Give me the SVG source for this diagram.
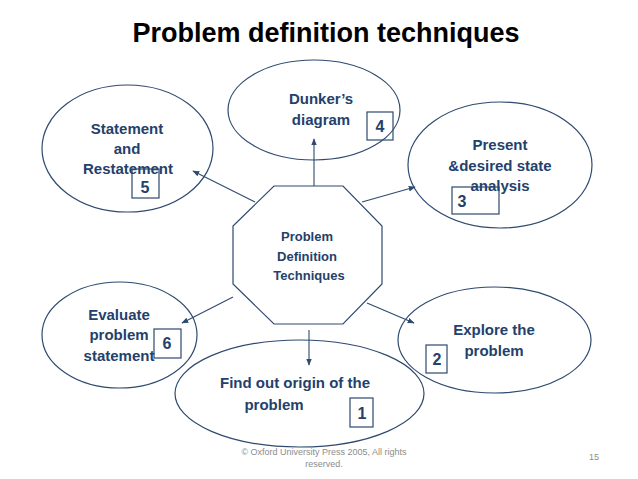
<svg xmlns="http://www.w3.org/2000/svg" width="638" height="479" viewBox="0 0 638 479">
<style>
.shape{fill:#fff;stroke:#2e4a6e;stroke-width:1.2}
.box{fill:none;stroke:#2e4a6e;stroke-width:1.2}
.t{font-family:"Liberation Sans",Arial,sans-serif;font-weight:bold;font-size:15px;fill:#23416b;text-anchor:middle}
.s{font-size:13px}
.n{font-family:"Liberation Sans",Arial,sans-serif;font-weight:bold;font-size:16px;fill:#23416b;text-anchor:middle}
.c{stroke:#2e4a6e;stroke-width:1.1;fill:none;marker-end:url(#ah)}
.f{font-family:"Liberation Sans",Arial,sans-serif;font-size:9px;fill:#8c8c8c;text-anchor:middle}
</style>
<defs>
<marker id="ah" viewBox="0 0 10 10" refX="9" refY="5" markerWidth="7" markerHeight="7" orient="auto" markerUnits="userSpaceOnUse">
<path d="M0,1 L10,5 L0,9 z" fill="#2e4a6e"/>
</marker>
</defs>
<rect width="638" height="479" fill="#fff"/>
<text x="326" y="42" font-family="'Liberation Sans',Arial,sans-serif" font-weight="bold" font-size="27" fill="#000" text-anchor="middle">Problem definition techniques</text>

<g id="n5">
<ellipse class="shape" cx="127.5" cy="148.5" rx="85.5" ry="63.5"/>
<text class="t" x="127" y="134">Statement</text>
<text class="t" x="127" y="154">and</text>
<text class="t" x="128" y="174">Restatement</text>
<rect class="box" x="132" y="169" width="27" height="29"/>
<text class="n" x="145" y="193">5</text>
</g>

<g id="n4">
<ellipse class="shape" cx="314" cy="110" rx="86" ry="50"/>
<text class="t" x="321" y="104">Dunker’s</text>
<text class="t" x="321" y="125">diagram</text>
<rect class="box" x="367" y="112" width="26" height="28"/>
<text class="n" x="380" y="132">4</text>
</g>

<g id="n3">
<ellipse class="shape" cx="500" cy="165" rx="92" ry="63"/>
<text class="t" x="500" y="150">Present</text>
<text class="t" x="500" y="171">&amp;desired state</text>
<text class="t" x="500" y="191">analysis</text>
<rect class="box" x="452" y="187" width="47" height="27"/>
<text class="n" x="462" y="207">3</text>
</g>

<g id="n6">
<ellipse class="shape" cx="119.5" cy="335" rx="77.5" ry="53"/>
<text class="t" x="119" y="320">Evaluate</text>
<text class="t" x="119" y="340">problem</text>
<text class="t" x="119" y="361">statement</text>
<rect class="box" x="154" y="329" width="27" height="29"/>
<text class="n" x="167" y="349">6</text>
</g>

<g id="n2">
<ellipse class="shape" cx="494.5" cy="340" rx="96.5" ry="53"/>
<text class="t" x="494" y="335">Explore the</text>
<text class="t" x="494" y="356">problem</text>
<rect class="box" x="426" y="345" width="21" height="28"/>
<text class="n" x="437" y="365">2</text>
</g>

<g id="n1">
<ellipse class="shape" cx="299.5" cy="393.5" rx="124.5" ry="53.5"/>
<text class="t" x="295" y="388">Find out origin of the</text>
<text class="t" x="274" y="410">problem</text>
<rect class="box" x="350" y="398" width="23" height="29"/>
<text class="n" x="362" y="419">1</text>
</g>

<g id="center">
<polygon class="shape" points="274,186 343,186 382,226 382,284 343,324 274,324 233,284 233,226"/>
<text class="t s" x="307" y="241">Problem</text>
<text class="t s" x="307" y="261">Definition</text>
<text class="t s" x="309" y="280">Techniques</text>
</g>

<g id="connectors">
<line class="c" x1="314" y1="186" x2="314" y2="139"/>
<line class="c" x1="255" y1="202" x2="193" y2="171"/>
<line class="c" x1="362" y1="202" x2="415" y2="187"/>
<line class="c" x1="233" y1="297" x2="182" y2="323"/>
<line class="c" x1="367" y1="303" x2="414" y2="323"/>
<line class="c" x1="309" y1="330" x2="309" y2="365"/>
</g>

<text class="f" x="324" y="455">© Oxford University Press 2005, All rights</text>
<text class="f" x="324" y="467">reserved.</text>
<text class="f" x="594" y="460">15</text>
</svg>
